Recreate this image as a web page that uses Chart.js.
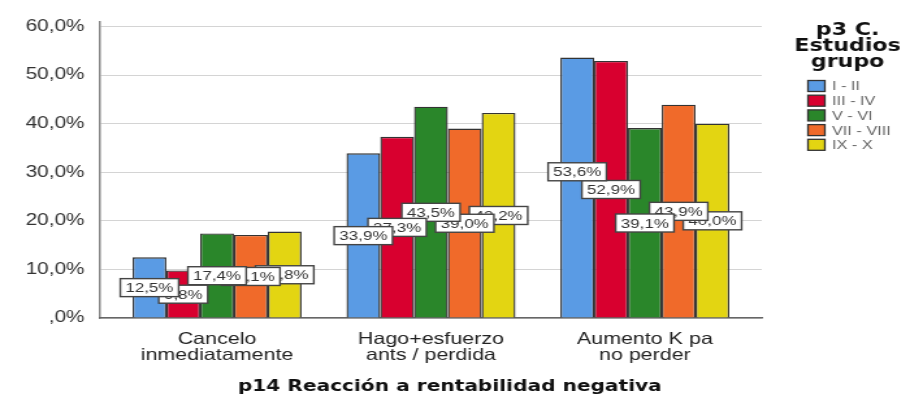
<!DOCTYPE html>
<html>
<head>
<meta charset="utf-8">
<script src="https://cdn.jsdelivr.net/npm/chart.js@4/dist/chart.umd.min.js"></script>
<style>
  html, body { margin: 0; padding: 0; background: #fff; overflow: hidden; }
  #wrap { position: absolute; left: 0; top: 0; width: 906px; height: 401px; }
  #grafico { position: absolute; left: 0; top: 0; transform-origin: 0 0; }
</style>
</head>
<body>
<div id="wrap"><canvas id="grafico"></canvas></div>
<script>
// categorias y series (porcentaje por grupo de estudios)
const categorias = [['Cancelo', 'inmediatamente'], ['Hago+esfuerzo', 'ants / perdida'], ['Aumento K pa', 'no perder']];
const grupos = ['I - II', 'III - IV', 'V - VI', 'VII - VIII', 'IX - X'];
const valI_II = [12.5, 33.9, 53.6];
const valIII_IV = [9.8, 37.3, 52.9];
const valV_VI = [17.4, 43.5, 39.1];
const valVII_VIII = [17.1, 39.0, 43.9];
const valIX_X = [17.8, 42.2, 40.0];
const ticksY = [0, 10, 20, 30, 40, 50, 60];

const colores = ['#5a9be4', '#d8002f', '#2a862a', '#f06a2a', '#e3d512'];
const ESTIRA = 1.3;   // el grafico se dibuja ancho y se estira en horizontal
const ANCHO = Math.round(906 / ESTIRA), ALTO = 401;
const MARGEN_X = 7.7; // hueco entre los ejes y las categorias de los extremos

const fmt = v => (v === 0 ? ',0' : v.toFixed(1).replace('.', ',')) + '%';

// etiqueta que se sube para no pisar la vecina
const desplazaEtiqueta = { '0,2': -16 };

const etiquetas = {
    id: 'etiquetas',
    afterLayout(chart) {
        // estrecha el rango de categorias sin mover las lineas de los ejes
        const x = chart.scales.x;
        x._startPixel += MARGEN_X;
        x._endPixel -= MARGEN_X;
        x._length = x._endPixel - x._startPixel;
    },
    afterDatasetsDraw(chart) {
        const ctx = chart.ctx;
        const y = chart.scales.y;
        ctx.save();
        ctx.font = '13px "Liberation Sans", Arial, sans-serif';
        ctx.textAlign = 'center';
        ctx.textBaseline = 'middle';
        // las primeras series quedan encima
        for (let d = chart.data.datasets.length - 1; d >= 0; d--) {
            const meta = chart.getDatasetMeta(d);
            meta.data.forEach((bar, i) => {
                const v = chart.data.datasets[d].data[i];
                const txt = fmt(v);
                const cy = y.getPixelForValue(v / 2) + (desplazaEtiqueta[d + ',' + i] || 0);
                const w = ctx.measureText(txt).width + 8;
                const h = 18;
                ctx.fillStyle = '#fff';
                ctx.fillRect(bar.x - w / 2, cy - h / 2, w, h);
                ctx.strokeStyle = '#444';
                ctx.lineWidth = 1.4;
                ctx.strokeRect(bar.x - w / 2, cy - h / 2, w, h);
                ctx.fillStyle = '#333';
                ctx.fillText(txt, bar.x, cy + 1);
            });
        }
        ctx.restore();
    },
    afterDraw(chart) {
        const ctx = chart.ctx;
        ctx.save();
        // titulo del eje x
        ctx.fillStyle = '#111';
        ctx.textAlign = 'center';
        ctx.textBaseline = 'middle';
        ctx.font = 'bold 15.5px "DejaVu Sans", sans-serif';
        ctx.fillText('p14 Reacción a rentabilidad negativa', 346, 387);

        // leyenda
        ctx.font = 'bold 17px "DejaVu Sans", sans-serif';
        ['p3 C.', 'Estudios', 'grupo'].forEach((t, k) => ctx.fillText(t, 652, 31 + k * 16));
        ctx.textAlign = 'left';
        ctx.font = '12.5px "Liberation Sans", Arial, sans-serif';
        chart.data.datasets.forEach((ds, k) => {
            const cy = 86 + k * 14.7;
            ctx.fillStyle = ds.backgroundColor;
            ctx.fillRect(621.5, cy - 5.5, 13, 11);
            ctx.strokeStyle = '#333';
            ctx.lineWidth = 1.3;
            ctx.strokeRect(621.5, cy - 5.5, 13, 11);
            ctx.fillStyle = '#666';
            ctx.fillText(ds.label, 640, cy + 1);
        });
        ctx.restore();
    }
};

const series = [valI_II, valIII_IV, valV_VI, valVII_VIII, valIX_X];

const canvas = document.getElementById('grafico');
canvas.width = ANCHO;
canvas.height = ALTO;
canvas.style.transform = 'scaleX(' + ESTIRA + ')';

new Chart(canvas, {
    type: 'bar',
    data: {
        labels: categorias,
        datasets: series.map((vals, k) => ({
            label: grupos[k],
            data: vals,
            backgroundColor: colores[k],
            borderColor: '#333',
            borderWidth: 1.4,
            categoryPercentage: 0.79,
            barPercentage: 1
        }))
    },
    options: {
        responsive: false,
        animation: false,
        devicePixelRatio: 1,
        layout: { padding: { top: 19, right: 111, left: 0, bottom: 0 } },
        plugins: { legend: { display: false }, tooltip: { enabled: false } },
        scales: {
            y: {
                min: 0,
                max: 61,
                afterBuildTicks: s => { s.ticks = ticksY.map(v => ({ value: v })); },
                afterFit: s => { s.width = 77; },
                ticks: {
                    callback: v => fmt(v),
                    color: '#333',
                    padding: 12,
                    font: { family: '"Liberation Sans", Arial, sans-serif', size: 16 }
                },
                grid: { color: '#d4d4d4', lineWidth: 1, drawTicks: false },
                border: { color: '#888', width: 1.5 }
            },
            x: {
                afterFit: s => { s.height = 83; },
                grid: { display: false, drawTicks: false },
                border: { color: '#666', width: 1.5 },
                ticks: {
                    color: '#222',
                    padding: 14,
                    font: { family: '"Liberation Sans", Arial, sans-serif', size: 16.5, lineHeight: 0.95 }
                }
            }
        }
    },
    plugins: [etiquetas]
});
</script>
</body>
</html>
